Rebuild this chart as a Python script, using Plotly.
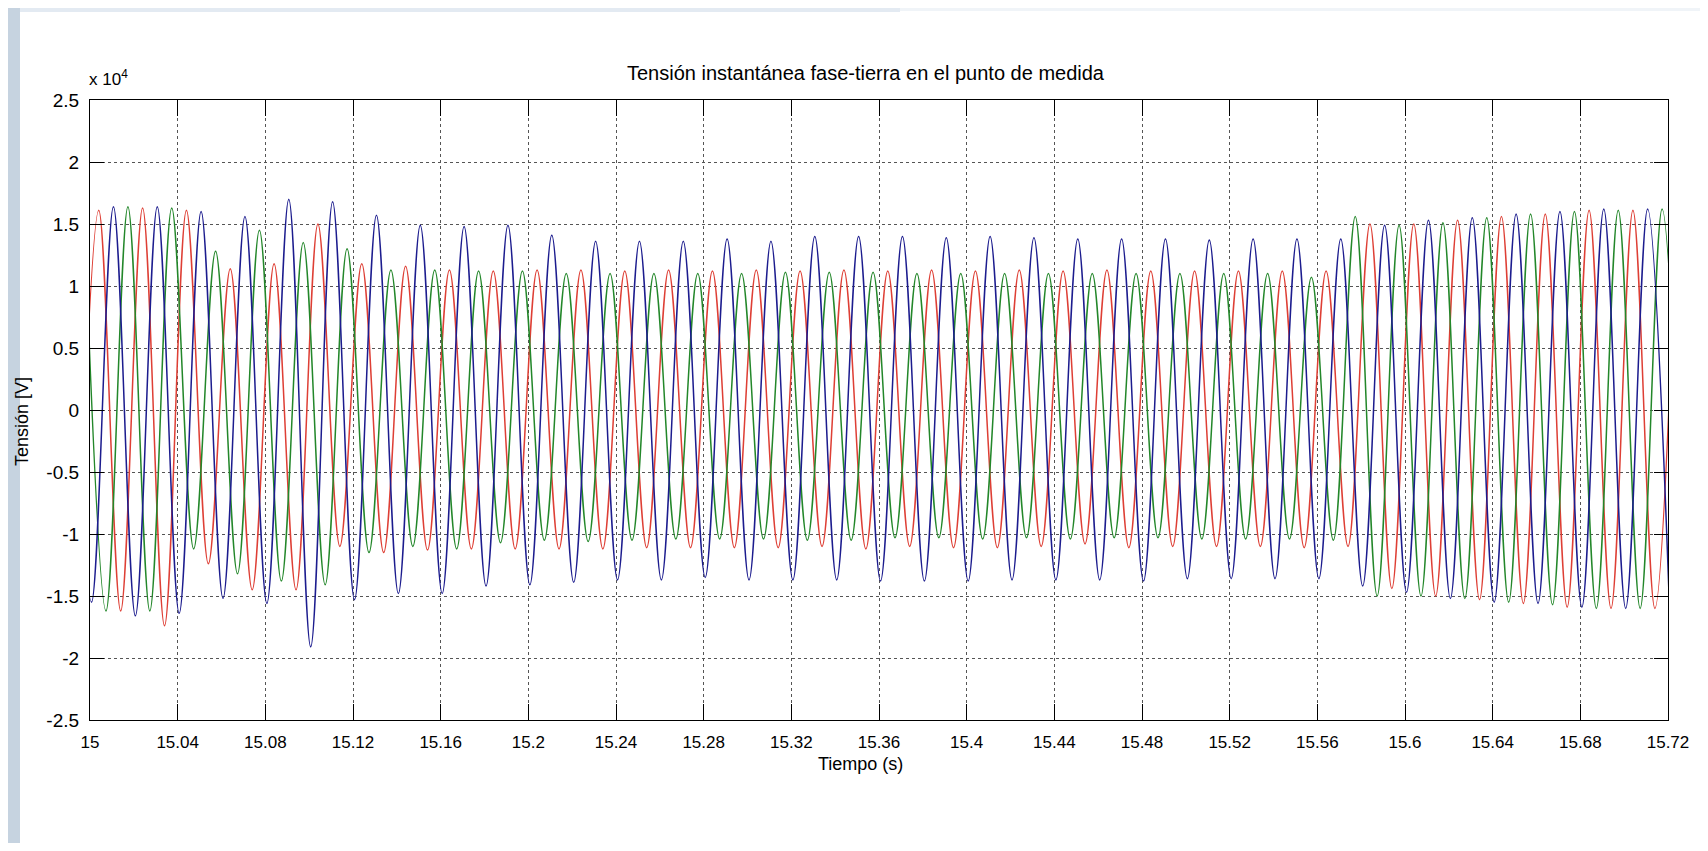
import plotly.graph_objects as go

# ---------------- data (values in units of 1e4 V) ----------------
SCALE = 1e4
PERIOD = 0.02  # 50 Hz

x_tickvals = [15.00, 15.04, 15.08, 15.12, 15.16, 15.20, 15.24, 15.28, 15.32, 15.36,
              15.40, 15.44, 15.48, 15.52, 15.56, 15.60, 15.64, 15.68, 15.72]
x_ticktext = ["15", "15.04", "15.08", "15.12", "15.16", "15.2", "15.24", "15.28", "15.32",
              "15.36", "15.4", "15.44", "15.48", "15.52", "15.56", "15.6", "15.64", "15.68", "15.72"]
y_tickvals = [-2.5, -2.0, -1.5, -1.0, -0.5, 0.0, 0.5, 1.0, 1.5, 2.0, 2.5]
y_ticktext = ["-2.5", "-2", "-1.5", "-1", "-0.5", "0", "0.5", "1", "1.5", "2", "2.5"]

# phase R (red): first crest / trough instants
red_peak_t0, red_trough_t0 = 15.004, 14.994
red_peaks = [1.61, 1.63, 1.61, 1.14, 1.18, 1.50, 1.18, 1.16, 1.13, 1.12, 1.13, 1.13, 1.12,
             1.13, 1.12, 1.13, 1.12, 1.13, 1.12, 1.13, 1.12, 1.13, 1.12, 1.13, 1.12, 1.12,
             1.12, 1.12, 1.12, 1.50, 1.50, 1.53, 1.56, 1.58, 1.61, 1.61, 1.62]
red_troughs = [-1.60, -1.62, -1.74, -1.24, -1.45, -1.45, -1.10, -1.15, -1.13, -1.12, -1.12,
               -1.12, -1.12, -1.11, -1.11, -1.11, -1.11, -1.10, -1.12, -1.10, -1.11, -1.11,
               -1.10, -1.08, -1.11, -1.10, -1.10, -1.10, -1.11, -1.10, -1.44, -1.50, -1.53,
               -1.56, -1.59, -1.60, -1.60]

# phase S (green)
green_peak_t0, green_trough_t0 = 14.9973, 15.0073
green_peaks = [1.62, 1.64, 1.63, 1.28, 1.45, 1.35, 1.30, 1.13, 1.13, 1.12, 1.12, 1.10, 1.10,
               1.10, 1.10, 1.10, 1.11, 1.11, 1.11, 1.10, 1.10, 1.10, 1.10, 1.10, 1.10, 1.10,
               1.10, 1.10, 1.07, 1.56, 1.49, 1.51, 1.55, 1.58, 1.60, 1.61, 1.62]
green_troughs = [-1.62, -1.62, -1.12, -1.32, -1.38, -1.41, -1.15, -1.10, -1.12, -1.07, -1.05,
                 -1.06, -1.05, -1.04, -1.04, -1.04, -1.05, -1.05, -1.03, -1.03, -1.04, -1.03,
                 -1.04, -1.03, -1.03, -1.04, -1.04, -1.04, -1.05, -1.50, -1.50, -1.52, -1.55,
                 -1.57, -1.60, -1.60, -1.60]

# phase T (blue)
blue_peak_t0, blue_trough_t0 = 14.9907, 15.0007
blue_peaks = [1.62, 1.64, 1.64, 1.60, 1.56, 1.70, 1.68, 1.57, 1.49, 1.48, 1.49, 1.41, 1.36,
              1.36, 1.36, 1.38, 1.36, 1.40, 1.40, 1.40, 1.39, 1.40, 1.39, 1.38, 1.38, 1.38,
              1.37, 1.38, 1.38, 1.38, 1.49, 1.53, 1.55, 1.58, 1.60, 1.62, 1.62]
blue_troughs = [-1.55, -1.66, -1.64, -1.52, -1.56, -1.91, -1.53, -1.48, -1.48, -1.42, -1.41,
                -1.39, -1.37, -1.37, -1.35, -1.37, -1.37, -1.37, -1.38, -1.38, -1.38, -1.37,
                -1.37, -1.37, -1.38, -1.36, -1.36, -1.36, -1.36, -1.42, -1.47, -1.52, -1.55,
                -1.56, -1.59, -1.60, -1.60]


def extremes(peak_t0, peaks, trough_t0, troughs):
    pts = [(peak_t0 + PERIOD * k, v * SCALE) for k, v in enumerate(peaks)]
    pts += [(trough_t0 + PERIOD * k, v * SCALE) for k, v in enumerate(troughs)]
    pts.sort()
    return [p[0] for p in pts], [p[1] for p in pts]


phases = [
    ("Fase R", "#de3f35", red_peak_t0, red_peaks, red_trough_t0, red_troughs),
    ("Fase S", "#23872a", green_peak_t0, green_peaks, green_trough_t0, green_troughs),
    ("Fase T", "#1c1c8e", blue_peak_t0, blue_peaks, blue_trough_t0, blue_troughs),
]

fig = go.Figure()
for name, color, pt0, pk, tt0, tr in phases:
    xs, ys = extremes(pt0, pk, tt0, tr)
    fig.add_trace(go.Scatter(x=xs, y=ys, mode="lines", name=name,
                             line=dict(color=color, width=1.5, shape="spline", smoothing=1.0),
                             showlegend=False, hoverinfo="skip"))

FONT = "Liberation Sans, Arial, sans-serif"
OFF = 8                      # page body margin
W, H = 1708 - 2 * OFF, 851 - 2 * OFF
# plot area in screen pixels: x 90..1668, y 100..720
L, T = 90 - OFF, 100 - OFF
R = W - (1668 - OFF)
B = H - (720 - OFF)
pw, ph = W - L - R, H - T - B


def px(xs):
    return (xs - OFF - L) / pw


def py(ys):
    return (H - B - (ys - OFF)) / ph


fig.update_layout(
    width=W, height=H,
    margin=dict(l=L, r=R, t=T, b=B, pad=0),
    paper_bgcolor="white", plot_bgcolor="white",
    font=dict(family=FONT, size=18, color="black"),
    xaxis=dict(range=[15.0, 15.72], tickvals=x_tickvals, ticktext=x_ticktext,
               showgrid=True, gridcolor="#555555", griddash="dot", gridwidth=1,
               zeroline=False, showline=True, linecolor="black", linewidth=1.2,
               mirror="ticks", ticks="inside", ticklen=16, tickcolor="black", tickwidth=1.2,
               tickfont=dict(size=17, family=FONT), ticklabelstandoff=6),
    yaxis=dict(range=[-2.5 * SCALE, 2.5 * SCALE],
               tickvals=[v * SCALE for v in y_tickvals], ticktext=y_ticktext,
               showgrid=True, gridcolor="#555555", griddash="dot", gridwidth=1,
               zeroline=False, showline=True, linecolor="black", linewidth=1.2,
               mirror="ticks", ticks="inside", ticklen=14, tickcolor="black", tickwidth=1.2,
               tickfont=dict(size=19, family=FONT), ticklabelstandoff=6),
    shapes=[
        dict(type="rect", xref="paper", yref="paper", x0=px(OFF), x1=px(20), y0=py(851 - OFF), y1=py(OFF),
             fillcolor="#c6d3e0", line=dict(width=0), layer="below"),
        dict(type="rect", xref="paper", yref="paper", x0=px(20), x1=px(900), y0=py(12), y1=py(OFF),
             fillcolor="#e3eaf2", line=dict(width=0), layer="below"),
        dict(type="rect", xref="paper", yref="paper", x0=px(900), x1=px(1708 - OFF), y0=py(11), y1=py(OFF),
             fillcolor="#f0f4f8", line=dict(width=0), layer="below"),
    ],
    annotations=[
        dict(text="Tensión instantánea fase-tierra en el punto de medida", xref="paper", yref="paper",
             x=px(866), y=py(73), xanchor="center", yanchor="middle", showarrow=False,
             font=dict(size=20, family=FONT)),
        dict(text="x 10<sup>4</sup>", xref="paper", yref="paper", x=px(87), y=py(78),
             xanchor="left", yanchor="middle", showarrow=False, font=dict(size=17, family=FONT)),
        dict(text="Tiempo (s)", xref="paper", yref="paper", x=px(860), y=py(764),
             xanchor="center", yanchor="middle", showarrow=False, font=dict(size=18, family=FONT)),
        dict(text="Tensión [V]", xref="paper", yref="paper", x=px(22), y=py(422),
             xanchor="center", yanchor="middle", textangle=-90, showarrow=False,
             font=dict(size=18, family=FONT)),
    ],
)

fig.write_html("out.html")
